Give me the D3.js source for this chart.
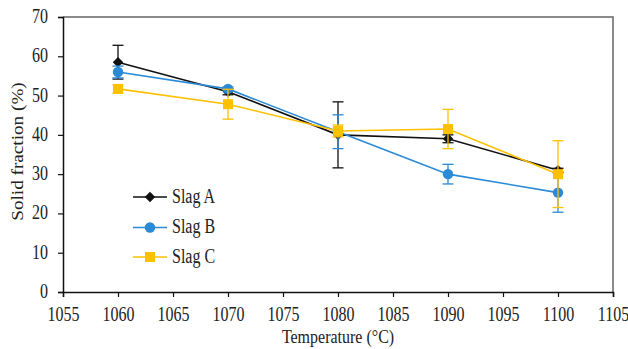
<!DOCTYPE html>
<html>
<head>
<meta charset="utf-8">
<script src="https://cdn.jsdelivr.net/npm/d3@7"></script>
<style>
  body { margin: 0; background: #fff; }
  svg text { font-family: "Liberation Serif", "Times New Roman", serif; fill: #222; }
</style>
</head>
<body>
<svg id="chart"></svg>
<script>
// data
const temps = [1060, 1070, 1080, 1090, 1100];
const slagA = [58.5, 51.0, 40.0, 39.0, 31.0];
const slagAErr = [4.3, 0.8, 8.4, 1.0, 0.5];
const slagB = [56.0, 51.7, 40.8, 30.0, 25.3];
const slagBErr = [1.5, 0.5, 4.3, 2.5, 5.0];
const slagC = [51.7, 47.8, 41.0, 41.5, 30.0];
const slagCErr = [1.0, 3.8, 1.5, 5.0, 8.5];
const xTicks = [1055, 1060, 1065, 1070, 1075, 1080, 1085, 1090, 1095, 1100, 1105];
const yTicks = [0, 10, 20, 30, 40, 50, 60, 70];

const series = [
  { name: "Slag A", values: slagA, err: slagAErr, color: "#111", shape: "diamond" },
  { name: "Slag B", values: slagB, err: slagBErr, color: "#2b8ad6", shape: "circle" },
  { name: "Slag C", values: slagC, err: slagCErr, color: "#ffc000", shape: "square" },
];

const width = 628, height = 349;
const margin = { top: 17, right: 15, bottom: 57, left: 63 };

const svg = d3.select("#chart").attr("width", width).attr("height", height);

const x = d3.scaleLinear([1055, 1105], [margin.left, width - margin.right]);
const y = d3.scaleLinear([0, 70], [height - margin.bottom, margin.top]);

// frame (top / right in grey)
svg.append("path")
   .attr("d", `M${x(1055)},${y(70)}H${x(1105)}V${y(0)}`)
   .attr("fill", "none")
   .attr("stroke", "#666")
   .attr("stroke-width", 1.5);

// x axis
svg.append("g")
   .attr("transform", `translate(0,${y(0)})`)
   .call(d3.axisBottom(x).tickValues(xTicks).tickFormat(d3.format("d")).tickSizeOuter(0).tickSize(5).tickPadding(3))
   .call(g => g.select(".domain").attr("stroke", "#111").attr("stroke-width", 1.5))
   .call(g => g.selectAll(".tick line").attr("stroke", "#111").attr("stroke-width", 1.2))
   .call(g => g.selectAll(".tick text").text(null))
   .call(g => g.selectAll(".tick").append("text")
               .attr("y", 29)
               .attr("text-anchor", "middle")
               .attr("font-size", 16)
               .attr("transform", "scale(1,1.25)")
               .attr("y", 29 / 1.25)
               .text(d => d));

// y axis
svg.append("g")
   .attr("transform", `translate(${x(1055)},0)`)
   .call(d3.axisLeft(y).tickValues(yTicks).tickSizeOuter(0).tickSize(5))
   .call(g => g.select(".domain").attr("stroke", "#111").attr("stroke-width", 1.5))
   .call(g => g.selectAll(".tick line").attr("stroke", "#111").attr("stroke-width", 1.2))
   .call(g => g.selectAll(".tick text").text(null))
   .call(g => g.selectAll(".tick").append("text")
               .attr("x", -15)
               .attr("text-anchor", "end")
               .attr("font-size", 16)
               .attr("transform", "scale(1,1.25)")
               .attr("y", 5.5 / 1.25)
               .text(d => d));

// axis titles
svg.append("text")
   .attr("transform", `translate(${(x(1055) + x(1105)) / 2},343) scale(1,1.2)`)
   .attr("text-anchor", "middle")
   .attr("font-size", 16)
   .text("Temperature (°C)");

svg.append("text")
   .attr("transform", `translate(23,${(y(0) + y(70)) / 2 - 3}) rotate(-90) scale(1.2,1)`)
   .attr("text-anchor", "middle")
   .attr("font-size", 16)
   .text("Solid fraction (%)");

const sym = {
  diamond: d3.symbol(d3.symbolDiamond2, 70),
  circle: d3.symbol(d3.symbolCircle, 85),
  square: d3.symbol(d3.symbolSquare, 100),
};

const line = d3.line().x(d => x(d[0])).y(d => y(d[1]));

series.forEach(s => {
  const pts = temps.map((t, i) => [t, s.values[i], s.err[i]]);
  const g = svg.append("g");

  // error bars
  const eb = g.selectAll("g.err").data(pts).join("g").attr("class", "err")
              .attr("stroke", s.color).attr("stroke-width", 1.3);
  eb.append("line")
    .attr("x1", d => x(d[0])).attr("x2", d => x(d[0]))
    .attr("y1", d => y(d[1] + d[2])).attr("y2", d => y(d[1] - d[2]));
  eb.selectAll("line.cap").data(d => [[d[0], d[1] + d[2]], [d[0], d[1] - d[2]]]).join("line")
    .attr("class", "cap")
    .attr("x1", d => x(d[0]) - 5.5).attr("x2", d => x(d[0]) + 5.5)
    .attr("y1", d => y(d[1])).attr("y2", d => y(d[1]));

  g.append("path")
   .attr("d", line(pts))
   .attr("fill", "none")
   .attr("stroke", s.color)
   .attr("stroke-width", 1.6);

  g.selectAll("path.mark").data(pts).join("path")
   .attr("class", "mark")
   .attr("d", sym[s.shape])
   .attr("transform", d => `translate(${x(d[0])},${y(d[1])})`)
   .attr("fill", s.color);
});

// legend
const legendY = [197, 227.5, 257];
const leg = svg.append("g").selectAll("g").data(series).join("g")
   .attr("transform", (d, i) => `translate(133,${legendY[i]})`);
leg.append("line").attr("x1", 0).attr("x2", 34)
   .attr("stroke", d => d.color).attr("stroke-width", 1.6);
leg.append("path").attr("d", d => sym[d.shape]())
   .attr("transform", "translate(17,0)")
   .attr("fill", d => d.color);
leg.append("text")
   .attr("x", 39)
   .attr("font-size", 16)
   .attr("transform", "scale(1,1.25)")
   .attr("y", 5.5 / 1.25)
   .text(d => d.name);
</script>
</body>
</html>
